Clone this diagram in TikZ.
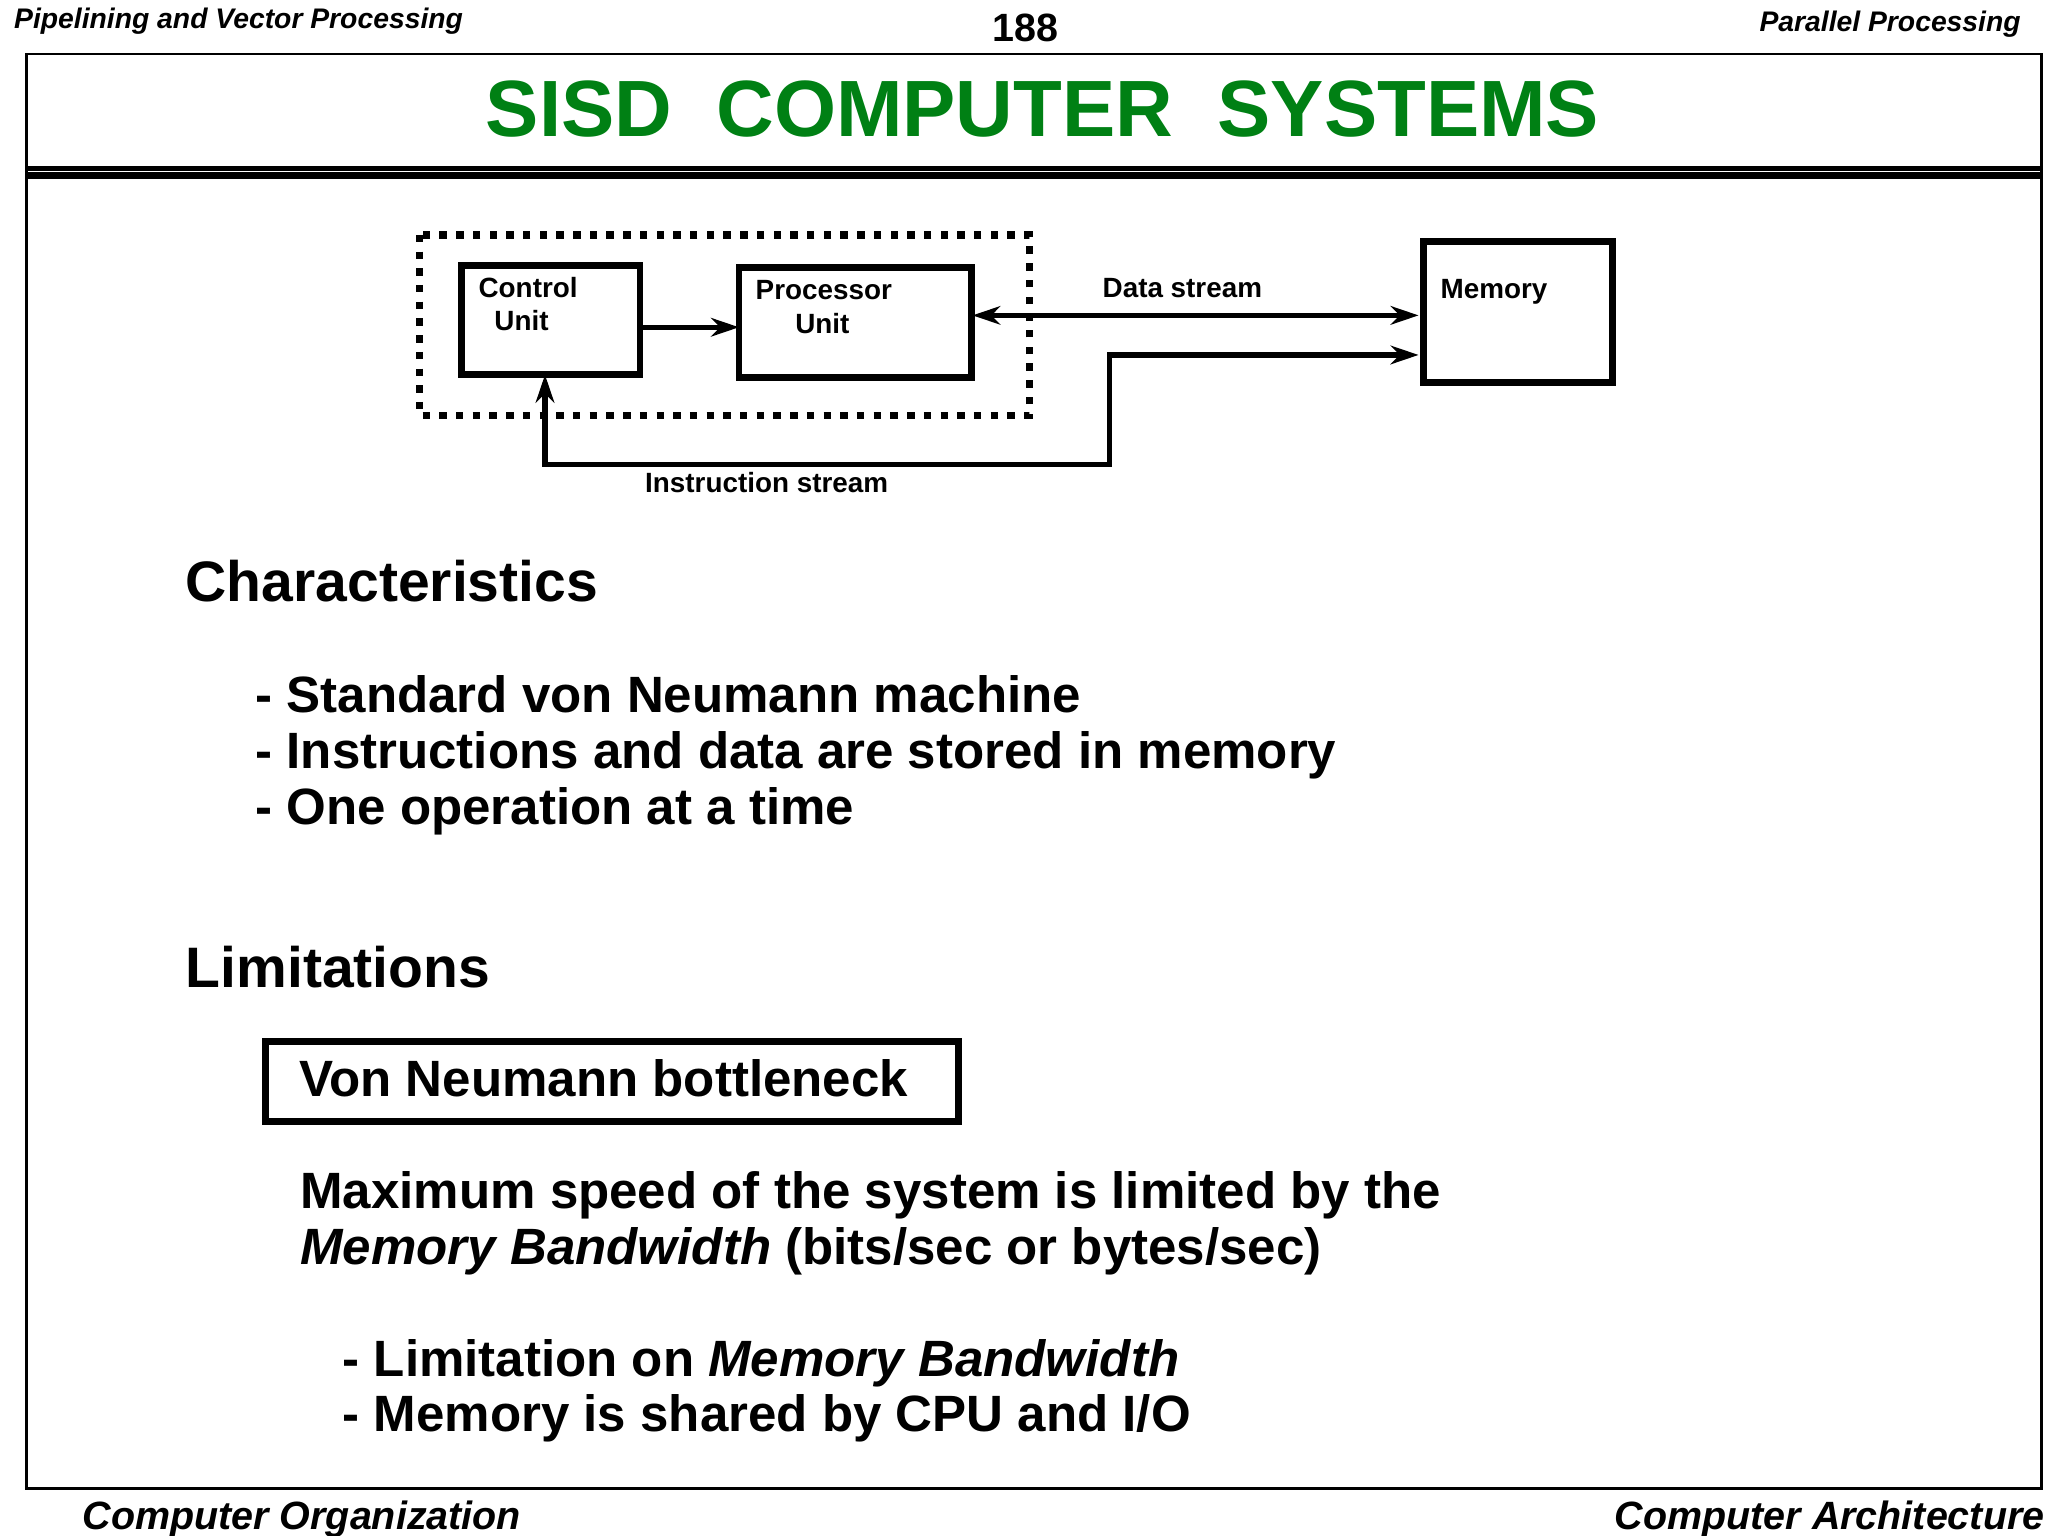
\documentclass[tikz,border=0pt]{standalone}
\usepackage{fontspec}
\setmainfont{Liberation Sans}
\usetikzlibrary{arrows.meta}
\definecolor{tgreen}{RGB}{0,128,20}
\begin{document}
\begin{tikzpicture}[x=0.01cm,y=-0.01cm,
  hdr/.style={font=\fontsize{6.1}{7}\selectfont\bfseries\itshape},
  ftr/.style={font=\fontsize{8.5}{10}\selectfont\bfseries\itshape},
  lbl/.style={font=\fontsize{6}{7}\selectfont\bfseries,inner sep=0},
  body/.style={font=\fontsize{11}{13}\selectfont\bfseries,anchor=base west,inner sep=0},
  head/.style={font=\fontsize{12.3}{15}\selectfont\bfseries,anchor=base west,inner sep=0},
  box/.style={draw,line width=1.5pt},
  arr/.style={line width=1.1pt,-{Stealth[length=6pt,width=4pt]}}]
\useasboundingbox (0,0) rectangle (1552,1164);
\draw[line width=0.6pt] (20,41) rectangle (1547,1128);
\draw[line width=1pt] (20,127.5) -- (1547,127.5);
\draw[line width=1.6pt] (20,133) -- (1547,133);
\node[hdr,anchor=west,inner sep=0] (h1) at (10,16) {Pipelining and Vector Processing};
\node[font=\fontsize{8.5}{10}\selectfont\bfseries,inner sep=0] (h2) at (777,21) {188};
\node[hdr,anchor=east,inner sep=0] (h3) at (1532,18) {Parallel Processing};
\node[font=\fontsize{17.2}{20}\selectfont\bfseries,text=tgreen,inner sep=0] (title) at (790,83) {SISD\ \ COMPUTER\ \ SYSTEMS};
\node[ftr,anchor=west,inner sep=0] (f1) at (62,1151) {Computer Organization};
\node[ftr,anchor=east,inner sep=0] (f2) at (1550,1151) {Computer Architecture};
% diagram
\draw[line width=1.6pt,dotted] (318,178) rectangle (780,315);
\draw[box] (350,201) rectangle (485,284);
\coordinate (cuR) at (485,248);
\coordinate (cuB) at (413,284);
\draw[box] (560,203) rectangle (736,286);
\coordinate (puL) at (560,248);
\coordinate (puR) at (737,239);
\draw[box] (1079,183) rectangle (1222,290);
\coordinate (memA) at (1075,239);
\coordinate (memB) at (1075,269);
\node[lbl,anchor=west] (c1) at (362,218) {Control};
\node[lbl,anchor=west] (c2) at (374,243) {Unit};
\node[lbl,anchor=west] (p1) at (572,220) {Processor};
\node[lbl,anchor=west] (p2) at (602,245) {Unit};
\node[lbl,anchor=west] (m1) at (1091,221) {Memory};
\node[lbl] (ds) at (896,218) {Data stream};
\node[lbl] (is) at (581,366) {Instruction stream};
\draw[arr] (cuR) -- (puL);
\draw[line width=1.1pt,{Stealth[length=6pt,width=4pt]}-{Stealth[length=6pt,width=4pt]}] (puR) -- (memA);
\draw[line width=1.1pt,{Stealth[length=6pt,width=4pt]}-{Stealth[length=6pt,width=4pt]}] (cuB) -- (413,352) -- (841,352) -- (841,269) -- (memB);
% text
\node[head] (ch) at (140,456) {Characteristics};
\node[body] (b1) at (193,540) {- Standard von Neumann machine};
\node[body] (b2) at (193,582) {- Instructions and data are stored in memory};
\node[body] (b3) at (193,625) {- One operation at a time};
\node[head] (li) at (140,748) {Limitations};
\draw[box] (201,789) rectangle (726,850);
\node[body] (vn) at (226,831) {Von Neumann bottleneck};
\node[body] (m1t) at (227,916) {Maximum speed of the system is limited by the};
\node[body] (m2t) at (227,958) {\textit{Memory Bandwidth} (bits/sec or bytes/sec)};
\node[body] (l1) at (259,1043) {- Limitation on \textit{Memory Bandwidth}};
\node[body] (l2) at (259,1085) {- Memory is shared by CPU and I/O};
\end{tikzpicture}
\end{document}
